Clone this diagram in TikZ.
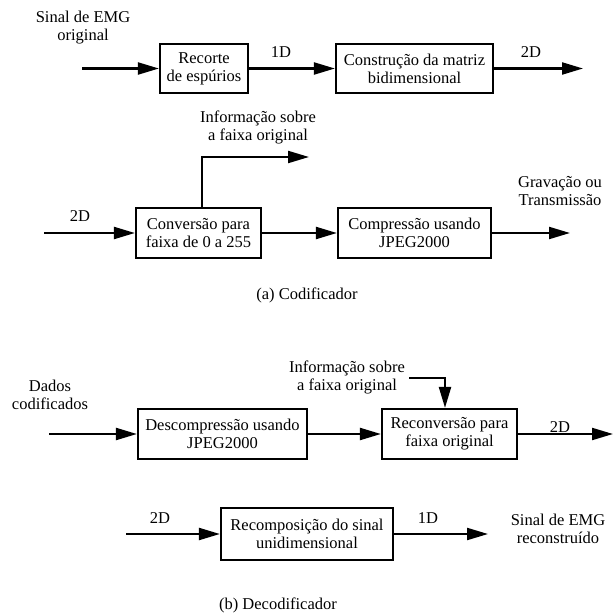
\documentclass[tikz,border=0pt]{standalone}
\usepackage{fontspec}
\setmainfont{Liberation Serif}
\usetikzlibrary{arrows.meta}
\begin{document}
\begin{tikzpicture}[x=1pt,y=-1pt,
  txt/.style={font=\fontsize{16.5}{18}\selectfont},
  blk/.style={txt, draw, line width=2.2pt, minimum height=50pt, inner sep=0pt, align=center},
  lbl/.style={txt, align=center, inner sep=0pt},
  flow/.style={line width=2.2pt, -{Triangle[length=21pt,width=12pt]}}]
\useasboundingbox (0,0) rectangle (614,613);
% ---------- (a) Codificador ----------
\node[blk, minimum width=88pt, minimum height=49pt] (b1) at (204,68.5) {Recorte\\de espúrios};
\node[blk, minimum width=157pt, minimum height=49pt] (b2) at (414.5,68.5) {Construção da matriz\\bidimensional};
\coordinate (in1) at (82,68.5);
\coordinate (out1) at (583,68.5);
\draw[flow] (in1) -- (b1);
\draw[flow] (b1) -- (b2);
\draw[flow] (b2) -- (out1);
\node[lbl] (t1) at (83,28) {Sinal de EMG\\original};
\node[lbl] (l1) at (281,52) {1D};
\node[lbl] (l2) at (531,52) {2D};

\node[blk, minimum width=125pt] (b3) at (198.5,233) {Conversão para\\faixa de 0 a 255};
\node[blk, minimum width=153pt] (b4) at (414.5,233) {Compressão usando\\JPEG2000};
\coordinate (in2) at (44,233);
\coordinate (out2) at (570,233);
\coordinate (up1) at (202,157);
\coordinate (up2) at (309,157);
\draw[flow] (in2) -- (b3);
\draw[flow] (b3) -- (b4);
\draw[flow] (b4) -- (out2);
\draw[flow] (b3.north -| up1) -- (up1) -- (up2);
\node[lbl] (t2) at (258,127) {Informação sobre\\a faixa original};
\node[lbl] (l3) at (80,216) {2D};
\node[lbl] (t3) at (560,191) {Gravação ou\\Transmissão};
\node[lbl] (capa) at (307,295) {(a) Codificador};

% ---------- (b) Decodificador ----------
\node[blk, minimum width=169pt] (b5) at (222.5,434) {Descompressão usando\\JPEG2000};
\node[blk, minimum width=135pt] (b6) at (449.5,434) {Reconversão para\\faixa original};
\coordinate (in3) at (49,434);
\coordinate (out3) at (613,434);
\draw[flow] (in3) -- (b5);
\draw[flow] (b5) -- (b6);
\draw[flow] (b6) -- (out3);
\node[lbl] (t4) at (50,395) {Dados\\codificados};
\node[lbl] (t5) at (347,377) {Informação sobre\\a faixa original};
\coordinate (f1) at (409,378);
\coordinate (f2) at (445,378);
\draw[flow] (f1) -- (f2) -- (f2 |- b6.north);
\node[lbl] (l4) at (560,427) {2D};

\node[blk, minimum width=172pt, minimum height=52pt] (b7) at (307,534) {Recomposição do sinal\\unidimensional};
\coordinate (in4) at (126,534);
\coordinate (out4) at (488,534);
\draw[flow] (in4) -- (b7);
\draw[flow] (b7) -- (out4);
\node[lbl] (l5) at (160,518) {2D};
\node[lbl] (l6) at (428,518) {1D};
\node[lbl] (t6) at (558,529) {Sinal de EMG\\reconstruído};
\node[lbl] (capb) at (278,605) {(b) Decodificador};
\end{tikzpicture}
\end{document}
